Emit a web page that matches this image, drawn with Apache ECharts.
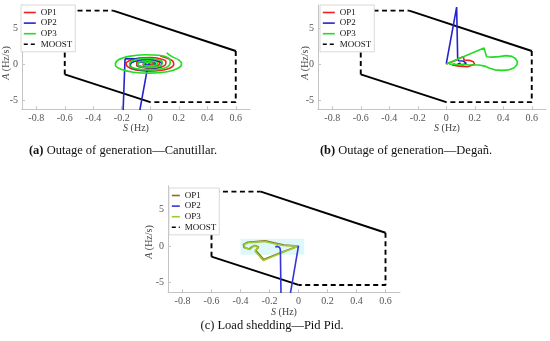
<!DOCTYPE html>
<html><head><meta charset="utf-8">
<script src="https://cdn.jsdelivr.net/npm/echarts@6/dist/echarts.min.js"></script>
<style>html,body{margin:0;padding:0;background:#fff}#c{width:550px;height:341px}</style>
</head><body><div id="c"></div>
<script>
// ---- axis ticks ----
const xTicks = [-0.8, -0.6, -0.4, -0.2, 0, 0.2, 0.4, 0.6];
const yTicks = [-5, 0, 5];
const xRange = [-0.9, 0.7];
const yRange = [-6.3, 8.2];

// ---- MOOST region (same in all panels) ----
const moostDashed1 = [[-0.6, -1.45], [-0.6, 7.4], [-0.26, 7.4]];
const moostDashed2 = [[0.6, 1.8], [0.6, -5.3], [0, -5.3]];
const moostSolid1 = [[-0.26, 7.4], [0.6, 1.8]];
const moostSolid2 = [[0, -5.3], [-0.6, -1.45]];

// ---- (a) Outage of generation - Canutillar ----
const aOP1 = [[0.07,1.15],[0.11,0.85],[0.155,0.45],[0.165,-0.05],[0.14,-0.55],[0.07,-0.9],[-0.02,-1.0],[-0.1,-0.85],[-0.155,-0.45],[-0.17,0.05],[-0.14,0.5],[-0.08,0.82],[0.0,0.9],[0.07,0.72],[0.11,0.35],[0.105,-0.15],[0.07,-0.5],[0.01,-0.62],[-0.05,-0.5],[-0.095,-0.2],[-0.095,0.2],[-0.06,0.48],[0.0,0.55],[0.045,0.4],[0.065,0.1],[0.055,-0.2],[0.02,-0.33],[-0.02,-0.3],[-0.05,-0.1],[-0.045,0.15],[-0.015,0.27],[0.015,0.18],[0.025,0.0],[0.005,-0.1],[-0.01,-0.02],[0.0,0.0]];
const aOP2jump = [[-0.014,0.0],[-0.22,-22.4],[-0.177,0.7]];
const aOP2 = [[-0.177,0.7],[-0.1,0.72],[-0.01,0.65],[0.05,0.45],[0.08,0.05],[0.065,-0.4],[0.01,-0.75],[-0.06,-0.82],[-0.12,-0.6],[-0.14,-0.2],[-0.13,0.2],[-0.09,0.45],[-0.03,0.5],[0.02,0.35],[0.035,0.0],[0.015,-0.35],[-0.03,-0.45],[-0.075,-0.3],[-0.09,0.0],[-0.07,0.25],[-0.035,0.3],[-0.01,0.15],[-0.005,-0.1],[-0.025,-0.2],[-0.045,-0.1],[-0.04,0.05],[-0.025,0.05]];
const aOP3 = [[0.115,1.55],[0.15,1.05],[0.2,0.55],[0.22,0.0],[0.195,-0.6],[0.12,-1.08],[0.0,-1.28],[-0.12,-1.15],[-0.205,-0.75],[-0.245,-0.1],[-0.225,0.55],[-0.15,1.05],[-0.04,1.27],[0.06,1.2],[0.13,0.8],[0.14,0.2],[0.12,-0.4],[0.06,-0.75],[-0.03,-0.82],[-0.1,-0.65],[-0.145,-0.25],[-0.14,0.25],[-0.1,0.6],[-0.02,0.75],[0.05,0.6],[0.085,0.25],[0.08,-0.15],[0.04,-0.45],[-0.02,-0.5],[-0.07,-0.35],[-0.09,0.0],[-0.07,0.32],[-0.02,0.43],[0.03,0.3],[0.05,0.05],[0.035,-0.2],[-0.01,-0.27],[-0.045,-0.15],[-0.045,0.1],[-0.015,0.2],[0.01,0.1],[0.005,0.0]];

// ---- (b) Outage of generation - Degañ ----
const bOP1 = [[0,0],[0.06,0.45],[0.1,0.85],[0.12,1.0],[0.125,0.55],[0.16,0.5],[0.19,0.3],[0.2,-0.05],[0.19,-0.3],[0.15,-0.38],[0.09,-0.3],[0.04,-0.15],[0.03,-0.05],[0.06,0.02]];
const bOP2 = [[0,0],[0.073,7.9],[0.08,0.9],[0.085,0.45],[0.12,0.4],[0.14,0.1],[0.12,-0.1],[0.08,-0.05],[0.07,0.1],[0.095,0.12],[0.1,0.05]];
const bOP3 = [[0,0],[0.265,2.2],[0.283,1.0],[0.32,0.95],[0.37,1.02],[0.42,1.15],[0.46,1.05],[0.485,0.75],[0.5,0.3],[0.495,-0.15],[0.475,-0.55],[0.44,-0.82],[0.39,-0.9],[0.34,-0.82],[0.3,-0.55],[0.27,-0.3],[0.23,-0.15],[0.15,-0.12],[0.08,-0.08],[0.02,-0.02]];

// ---- (c) Load shedding - Pid Pid ----
const cOP1 = [[0,0],[-0.1,0.12],[-0.17,0.42],[-0.23,0.7],[-0.29,0.62],[-0.35,0.5],[-0.38,0.22],[-0.375,-0.2],[-0.34,-0.42],[-0.325,-0.15],[-0.3,0.08],[-0.275,-0.15],[-0.295,-0.6],[-0.24,-1.85],[-0.12,-0.9],[0,0]];
const cOP2 = [[0,0],[-0.116,-13.4],[-0.125,-0.5],[-0.13,-0.2],[-0.145,-0.05],[-0.16,-0.12]];
const cOP3 = [[0,0],[-0.105,0.07],[-0.174,0.34],[-0.231,0.61],[-0.288,0.52],[-0.346,0.43],[-0.376,0.2],[-0.369,-0.25],[-0.334,-0.48],[-0.323,-0.2],[-0.3,0.02],[-0.277,-0.2],[-0.3,-0.7],[-0.243,-1.97],[-0.12,-0.95],[0,0]];
const cHighlight = [[-0.4, -1.2], [0.04, 1.0]];

// ---- captions ----
const captions = ['{b|(a)} Outage of generation\u2014Canutillar.', '{b|(b)} Outage of generation\u2014Degañ.', '(c) Load shedding\u2014Pid Pid.'];

const colorsAB = {OP1: '#ee2020', OP2: '#2424cc', OP3: '#22dd22'};
const colorsC = {OP1: '#8c6d1f', OP2: '#3434d8', OP3: '#99cc33'};
const serif = '"Liberation Serif", "Times New Roman", serif';
const axisGray = '#c4c4c4';
const labelGray = '#555';

const chart = echarts.init(document.getElementById('c'), null, {renderer: 'canvas'});

const grids = [
  {left: 22, top: 4.9, width: 228, height: 104.4, outerBoundsMode: 'none'},
  {left: 318, top: 4.9, width: 228, height: 104.4, outerBoundsMode: 'none'},
  {left: 168, top: 185.7, width: 232, height: 106.6, outerBoundsMode: 'none'}
];

function xAx(i) {
  return {type: 'value', gridIndex: i, min: xRange[0], max: xRange[1],
    axisLine: {show: true, onZero: false, lineStyle: {color: axisGray, width: 1}},
    axisTick: {show: true, inside: true, length: 3, customValues: xTicks, lineStyle: {color: axisGray}},
    axisLabel: {show: true, customValues: xTicks, margin: 4, color: labelGray, fontFamily: serif, fontSize: 10,
      formatter: v => String(v)},
    splitLine: {show: false}};
}
function yAx(i) {
  return {type: 'value', gridIndex: i, min: yRange[0], max: yRange[1],
    axisLine: {show: true, onZero: false, lineStyle: {color: axisGray, width: 1}},
    axisTick: {show: true, inside: true, length: 3, customValues: yTicks, lineStyle: {color: axisGray}},
    axisLabel: {show: true, customValues: yTicks, margin: 4, color: labelGray, fontFamily: serif, fontSize: 10,
      formatter: v => String(v)},
    splitLine: {show: false}};
}

function ln(name, i, data, color, opts) {
  return Object.assign({type: 'line', name: name, xAxisIndex: i, yAxisIndex: i, data: data,
    symbol: 'none', showSymbol: false, clip: true, animation: false, silent: true,
    lineStyle: {color: color, width: 1.6}, itemStyle: {color: color}}, opts || {});
}
const dashedStyle = {color: '#000', width: 1.9, type: [5, 3.5]};
const solidStyle = {color: '#000', width: 1.9};

const series = [];
for (let i = 0; i < 3; i++) {
  series.push(ln('MOOST', i, moostDashed1, '#000', {lineStyle: dashedStyle}));
  series.push(ln('MOOST', i, moostDashed2, '#000', {lineStyle: dashedStyle}));
  series.push(ln('MOOST', i, moostSolid1, '#000', {lineStyle: solidStyle}));
  series.push(ln('MOOST', i, moostSolid2, '#000', {lineStyle: solidStyle}));
}
// (a)
series.push(ln('OP1', 0, aOP1, colorsAB.OP1, {smooth: 0.35}));
series.push(ln('OP2', 0, aOP2jump, colorsAB.OP2));
series.push(ln('OP2', 0, aOP2, colorsAB.OP2, {smooth: 0.35}));
series.push(ln('OP3', 0, aOP3, colorsAB.OP3, {smooth: 0.35}));
// (b)
series.push(ln('OP1', 1, bOP1, colorsAB.OP1));
series.push(ln('OP2', 1, bOP2, colorsAB.OP2));
series.push(ln('OP3', 1, bOP3, colorsAB.OP3));
// (c)
series.push(ln('OP1', 2, cOP1, colorsC.OP1, {
  markArea: {silent: true, itemStyle: {color: 'rgba(190,240,245,0.5)'},
    data: [[{coord: cHighlight[0]}, {coord: cHighlight[1]}]]}}));
series.push(ln('OP3', 2, cOP3, colorsC.OP3));
series.push(ln('OP2', 2, cOP2, colorsC.OP2));

const hiddenSymbol = {opacity: 0, color: 'rgba(0,0,0,0)', borderColor: 'rgba(0,0,0,0)', borderWidth: 0};
function legendData(cols) {
  return [
    {name: 'OP1', itemStyle: hiddenSymbol, lineStyle: {color: cols.OP1, width: 1.6, type: 'solid'}},
    {name: 'OP2', itemStyle: hiddenSymbol, lineStyle: {color: cols.OP2, width: 1.6, type: 'solid'}},
    {name: 'OP3', itemStyle: hiddenSymbol, lineStyle: {color: cols.OP3, width: 1.6, type: 'solid'}},
    {name: 'MOOST', itemStyle: hiddenSymbol, lineStyle: {color: '#000', width: 1.6, type: [4, 3]}}
  ];
}
function legend(left, top, cols, w) {
  return {left: left, top: top, orient: 'vertical', data: legendData(cols), selectedMode: false,
    itemWidth: w, itemHeight: 8, itemGap: 1.6, itemTextGap: 4,
    padding: [3, 3, 3, 2], backgroundColor: '#fff', borderColor: '#cfcfcf', borderWidth: 0.8, borderRadius: 0,
    textStyle: {fontFamily: serif, fontSize: 9, color: '#111', lineHeight: 9}};
}

function txt(x, y, text, size, rot, opts) {
  return Object.assign({type: 'text', x: x, y: y, rotation: rot || 0, silent: true, z: 10,
    style: {text: text, x: 0, y: 0, fontFamily: serif, fontSize: size, fill: '#444',
      align: 'center', verticalAlign: 'middle', textAlign: 'center', textVerticalAlign: 'middle',
      rich: {i: {fontStyle: 'italic', fontFamily: serif, fontSize: size, fill: '#444'},
             b: {fontWeight: 'bold', fontFamily: serif, fontSize: size, fill: '#111'}}}}, opts || {});
}
function cap(x, y, text) {
  const t = txt(x, y, text, 12.5, 0);
  t.style.fill = '#111';
  return t;
}

const option = {
  animation: false,
  backgroundColor: '#fff',
  grid: grids,
  xAxis: [xAx(0), xAx(1), xAx(2)],
  yAxis: [yAx(0), yAx(1), yAx(2)],
  legend: [legend(21, 5, colorsAB, 12), legend(320, 5, colorsAB, 12), legend(169, 188, colorsC, 8)],
  series: series,
  graphic: [
    txt(136, 128.5, '{i|S} (Hz)', 10, 0),
    txt(447, 128.5, '{i|S} (Hz)', 10, 0),
    txt(284, 312, '{i|S} (Hz)', 10, 0),
    txt(6, 63, '{i|A} (Hz/s)', 10, Math.PI / 2),
    txt(305, 63, '{i|A} (Hz/s)', 10, Math.PI / 2),
    txt(149, 242, '{i|A} (Hz/s)', 10, Math.PI / 2),
    cap(123, 151, captions[0]),
    cap(406, 151, captions[1]),
    cap(272, 326, captions[2])
  ]
};
chart.setOption(option);
</script></body></html>
